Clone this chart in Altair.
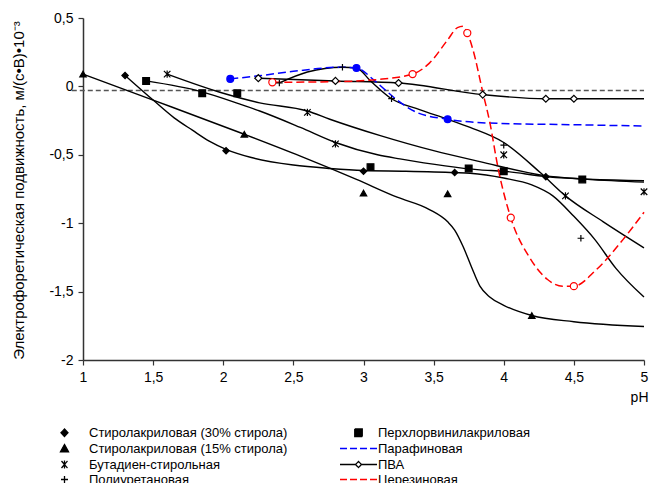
import altair as alt
import pandas as pd

S30 = "Стиролакриловая (30% стирола)"
S15 = "Стиролакриловая (15% стирола)"
BS = "Бутадиен-стирольная"
PU = "Полиуретановая"
PVC = "Перхлорвинилакриловая"
PAR = "Парафиновая"
PVA = "ПВА"
CER = "Церезиновая"
names = [S30, S15, BS, PU, PVC, PAR, PVA, CER]

# ---- measured points (markers) ----
s30_x = [1.3, 2.02, 3.0, 3.65, 4.3]
s30_y = [0.08, -0.47, -0.62, -0.63, -0.66]
s15_x = [1.0, 2.15, 3.0, 3.6, 4.2]
s15_y = [0.09, -0.35, -0.78, -0.785, -1.675]
bs_x = [1.6, 2.6, 2.8, 4.0, 4.44, 5.0]
bs_y = [0.09, -0.19, -0.42, -0.5, -0.8, -0.77]
pu_x = [2.4, 2.85, 3.2, 4.0, 4.55]
pu_y = [0.025, 0.14, -0.09, -0.43, -1.11]
pvc_x = [1.45, 1.85, 2.1, 3.05, 3.75, 4.0, 4.56]
pvc_y = [0.04, -0.05, -0.05, -0.59, -0.6, -0.62, -0.68]
par_x = [2.05, 2.95, 3.6]
par_y = [0.055, 0.135, -0.24]
pva_x = [2.25, 2.8, 3.25, 3.85, 4.3, 4.5]
pva_y = [0.06, 0.04, 0.025, -0.06, -0.09, -0.09]
cer_x = [2.35, 3.35, 3.74, 4.05, 4.5]
cer_y = [0.03, 0.09, 0.39, -0.96, -1.46]

# ---- smoothed curves ----
c_s30_x = [1.3, 1.5, 1.65, 1.78, 1.9, 2.02, 2.2, 2.5, 2.76, 3.0, 3.3, 3.65, 3.76, 4.0, 4.2, 4.35, 4.5, 4.65, 4.8, 5.0]
c_s30_y = [0.08, -0.1, -0.23, -0.32, -0.4, -0.46, -0.52, -0.575, -0.6, -0.615, -0.62, -0.63, -0.635, -0.67, -0.72, -0.8, -0.95, -1.12, -1.33, -1.54]
c_s15_x = [1.0, 1.5, 2.15, 2.55, 2.95, 3.24, 3.47, 3.6, 3.65, 3.71, 3.77, 3.83, 3.9, 4.0, 4.2, 4.5, 5.0]
c_s15_y = [0.09, -0.1, -0.35, -0.51, -0.68, -0.81, -0.9, -0.99, -1.05, -1.17, -1.32, -1.46, -1.54, -1.6, -1.675, -1.72, -1.755]
c_bs_x = [1.6, 2.0, 2.26, 2.6, 2.76, 3.12, 3.5, 3.83, 4.28, 4.6, 5.0]
c_bs_y = [0.09, -0.05, -0.12, -0.18, -0.24, -0.36, -0.47, -0.55, -0.65, -0.68, -0.70]
c_pu_x = [2.4, 2.6, 2.85, 2.95, 3.05, 3.2, 3.4, 3.6, 3.76, 4.0, 4.26, 4.44, 4.71, 5.0]
c_pu_y = [0.025, 0.105, 0.14, 0.135, 0.04, -0.09, -0.17, -0.24, -0.3, -0.41, -0.63, -0.8, -0.99, -1.18]
c_pvc_x = [1.45, 1.85, 2.12, 2.26, 2.55, 2.8, 3.1, 3.26, 3.83, 4.0, 4.31, 5.0]
c_pvc_y = [0.04, -0.04, -0.13, -0.18, -0.3, -0.41, -0.5, -0.53, -0.61, -0.62, -0.66, -0.69]
c_par_x = [2.05, 2.25, 2.5, 2.83, 2.95, 3.07, 3.17, 3.24, 3.38, 3.6, 3.95, 4.5, 5.0]
c_par_y = [0.055, 0.077, 0.11, 0.14, 0.135, 0.05, -0.04, -0.1, -0.19, -0.24, -0.27, -0.28, -0.29]
c_pva_x = [2.25, 2.8, 3.25, 3.85, 4.3, 4.5, 5.0]
c_pva_y = [0.06, 0.04, 0.025, -0.06, -0.09, -0.09, -0.09]
c_cer_x = [2.35, 2.8, 3.1, 3.35, 3.47, 3.6, 3.67, 3.71, 3.74, 3.78, 3.85, 3.9, 3.96, 4.05, 4.19, 4.31, 4.42, 4.5, 4.66, 4.85, 5.0]
c_cer_y = [0.03, 0.035, 0.05, 0.09, 0.17, 0.34, 0.43, 0.44, 0.39, 0.27, -0.04, -0.26, -0.6, -0.96, -1.26, -1.41, -1.46, -1.46, -1.34, -1.12, -0.92]

zero_x = [0.92, 5.0]
zero_y = [-0.03, -0.03]

x_ticks = [1, 1.5, 2, 2.5, 3, 3.5, 4, 4.5, 5]
y_ticks = [0.5, 0, -0.5, -1, -1.5, -2]


def frame(items):
    rows = []
    for name, xs, ys in items:
        for xv, yv in zip(xs, ys):
            rows.append({"series": name, "x": xv, "y": yv})
    return pd.DataFrame(rows)


pts = frame([(S30, s30_x, s30_y), (S15, s15_x, s15_y), (BS, bs_x, bs_y), (PU, pu_x, pu_y),
             (PVC, pvc_x, pvc_y), (PAR, par_x, par_y), (PVA, pva_x, pva_y), (CER, cer_x, cer_y)])
black_curves = frame([(S30, c_s30_x, c_s30_y), (S15, c_s15_x, c_s15_y), (BS, c_bs_x, c_bs_y),
                      (PU, c_pu_x, c_pu_y), (PVC, c_pvc_x, c_pvc_y), (PVA, c_pva_x, c_pva_y)])
blue_curve = frame([(PAR, c_par_x, c_par_y)])
red_curve = frame([(CER, c_cer_x, c_cer_y)])
zero_df = frame([("zero", zero_x, zero_y)])
legend_df = pd.DataFrame({"entry": names})

FONT = "Liberation Sans"

xenc = alt.X("x:Q", scale=alt.Scale(domain=[1, 5], nice=False, zero=False),
             axis=alt.Axis(values=x_ticks, labelExpr="replace('' + datum.value, '.', ',')",
                           title="pH", titleX=565, titleY=37, titleAlign="right",
                           titleBaseline="middle", titleFontSize=14, titleFontWeight="normal",
                           titleFont=FONT, titleColor="black",
                           labelFont=FONT, labelFontSize=14, labelColor="black", labelPadding=5,
                           tickSize=5, tickColor="#333", domainColor="#333", domainWidth=1.5,
                           tickWidth=1.2, grid=False, labelFlush=False))
yenc = alt.Y("y:Q", scale=alt.Scale(domain=[-2, 0.5], nice=False, zero=False),
             axis=alt.Axis(values=y_ticks, labelExpr="replace('' + datum.value, '.', ',')",
                           title="Электрофоретическая подвижность, м/(с•В)•10⁻³",
                           titleX=-65, titleY=172, titleAngle=-90, titleAlign="center",
                           titleBaseline="middle", titleFontSize=15, titleFontWeight="normal",
                           titleFont=FONT, titleColor="black",
                           labelFont=FONT, labelFontSize=14, labelColor="black", labelPadding=5,
                           tickSize=5, tickColor="#333", domainColor="#333", domainWidth=1.5,
                           tickWidth=1.2, grid=False, labelFlush=False))

zero_layer = alt.Chart(zero_df).mark_line(color="#555555", strokeWidth=1.5, strokeDash=[5, 3]).encode(
    x=xenc, y=yenc)

black_layer = alt.Chart(black_curves).mark_line(interpolate="monotone", color="black", strokeWidth=1.4).encode(
    x=xenc, y=yenc, detail="series:N")

blue_layer = alt.Chart(blue_curve).mark_line(interpolate="monotone", color="#0000ff", strokeWidth=1.5,
                                             strokeDash=[8, 4]).encode(x=xenc, y=yenc)
red_layer = alt.Chart(red_curve).mark_line(interpolate="monotone", color="#ff0000", strokeWidth=1.5,
                                           strokeDash=[8, 4]).encode(x=xenc, y=yenc)

star_path = "M-1,-1L1,1M-1,1L1,-1M0,-1.1L0,1.1"
plus_path = "M-1,0H1M0,-1V1"

marker_layer = alt.Chart(pts).mark_point(opacity=1, strokeWidth=1.2).encode(
    x=xenc, y=yenc,
    shape=alt.Shape("series:N", scale=alt.Scale(domain=names, range=[
        "diamond", "triangle-up", star_path, plus_path, "square", "circle", "diamond", "circle"]), legend=None),
    fill=alt.Fill("series:N", scale=alt.Scale(domain=names, range=[
        "black", "black", "transparent", "transparent", "black", "#0000ff", "white", "white"]), legend=None),
    stroke=alt.Stroke("series:N", scale=alt.Scale(domain=names, range=[
        "black", "black", "black", "black", "black", "#0000ff", "black", "#ff0000"]), legend=None),
    size=alt.Size("series:N", scale=alt.Scale(domain=names, range=[40, 50, 40, 45, 55, 60, 35, 55]), legend=None),
)

leg = alt.Legend(title=None, orient="none", legendX=-25, legendY=408, columns=2, columnPadding=49,
                 rowPadding=1, symbolSize=100, symbolStrokeWidth=1.3, labelFont=FONT, labelFontSize=13,
                 labelOffset=18, labelColor="black", padding=0, labelLimit=400)

legend_shapes = [
    "M0,-0.75L0.7,0L0,0.75L-0.7,0Z",          # S30 diamond
    "M0,-0.8L0.8,0.65L-0.8,0.65Z",            # S15 triangle
    "M-0.6,-0.7L0.6,0.7M-0.6,0.7L0.6,-0.7M0,-0.8V0.8",  # BS star
    "M-0.7,0H0.7M0,-0.7V0.7",                 # PU plus
    "M0.25,-0.75H1.75V0.75H0.25Z",            # PVC square
    "M-2.7,0H4.7",                            # PAR dashed
    "M-2.7,0H0.4M1.6,0H4.7M1,-0.6L1.6,0L1,0.6L0.4,0Z",  # PVA
    "M-2.7,0H4.7",                            # CER dashed
]
legend_fill = ["black", "black", "transparent", "transparent", "black", "transparent", "white", "transparent"]
legend_stroke = ["black", "black", "black", "black", "black", "#0000ff", "black", "#ff0000"]
legend_dash = [[1, 0], [1, 0], [1, 0], [1, 0], [1, 0], [7, 3], [1, 0], [7, 3]]

legend_layer = alt.Chart(legend_df).mark_point(opacity=1).encode(
    shape=alt.Shape("entry:N", scale=alt.Scale(domain=names, range=legend_shapes), legend=leg),
    fill=alt.Fill("entry:N", scale=alt.Scale(domain=names, range=legend_fill), legend=leg),
    stroke=alt.Stroke("entry:N", scale=alt.Scale(domain=names, range=legend_stroke), legend=leg),
    strokeDash=alt.StrokeDash("entry:N", scale=alt.Scale(domain=names, range=legend_dash), legend=leg),
).transform_filter("false")

chart = alt.layer(zero_layer, black_layer, blue_layer, red_layer, marker_layer, legend_layer).resolve_scale(
    shape="independent", fill="independent", stroke="independent", strokeDash="independent", size="independent"
).properties(
    width=561, height=342,
    padding={"left": 75, "top": 10, "right": 5, "bottom": 130},
    autosize=alt.AutoSizeParams(type="none"),
    background="white",
).configure_view(stroke=None)

chart.save("out.html", embed_options={"renderer": "svg", "actions": False})
